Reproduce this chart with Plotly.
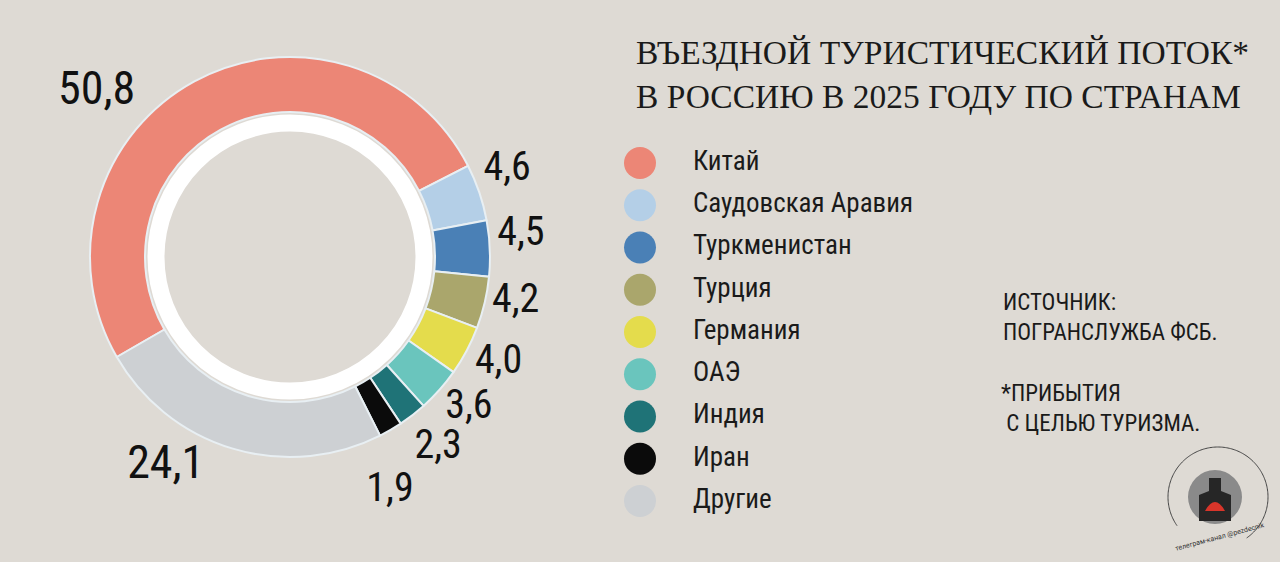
import math
import plotly.graph_objects as go

countries = ["Китай", "Саудовская Аравия", "Туркменистан", "Турция", "Германия",
             "ОАЭ", "Индия", "Иран", "Другие"]
shares = [50.8, 4.6, 4.5, 4.2, 4.0, 3.6, 2.3, 1.9, 24.1]
share_labels = ["50,8", "4,6", "4,5", "4,2", "4,0", "3,6", "2,3", "1,9", "24,1"]
colors = ["#ec8676", "#b4cfe7", "#4a80b6", "#aaa66c", "#e4dc4c",
          "#6ac5bd", "#1f7377", "#0b0b0b", "#cdd0d3"]

title_lines = ["ВЪЕЗДНОЙ ТУРИСТИЧЕСКИЙ ПОТОК*", "В РОССИЮ В 2025 ГОДУ ПО СТРАНАМ"]
source_lines = ["ИСТОЧНИК:", "ПОГРАНСЛУЖБА ФСБ."]
note_lines = ["*ПРИБЫТИЯ", " С ЦЕЛЬЮ ТУРИЗМА."]
logo_caption = "телеграм-канал @pezdecnik"

# ---- styling / layout constants ----
BG = "#dedad4"
W, H = 1280, 562
NARROW = "Roboto Condensed, Roboto, sans-serif"
SERIF = "Liberation Serif, DejaVu Serif, serif"
START_ANGLE = 240          # where the first slice starts (deg, clockwise from 12 o'clock)
label_radius = [1.27, 1.17, 1.16, 1.15, 1.17, 1.17, 1.21, 1.27, 1.22]   # in units of outer radius
label_nudge = [-21, -3, -3, -2, -1, -1.5, 0, 7, 14]                    # deg
label_size = [46, 40, 40, 40, 40, 40, 40, 40, 46]
RMAX = 1.28

cx, cy, R = 290, 257, 200
dom_x = [(cx - R) / W, (cx + R) / W]
dom_y = [(H - cy - R) / H, (H - cy + R) / H]
RP = R * RMAX
pol_x = [(cx - RP) / W, (cx + RP) / W]
pol_y = [max(0, (H - cy - RP) / H), min(1, (H - cy + RP) / H)]

fig = go.Figure()

# donut
fig.add_trace(go.Pie(
    labels=countries, values=shares, textinfo="none",
    marker=dict(colors=colors, line=dict(color="#e8eff3", width=2)),
    hole=0.725, sort=False, direction="clockwise", rotation=START_ANGLE,
    domain=dict(x=dom_x, y=dom_y),
    showlegend=False, hoverinfo="label+value",
))

# value labels around the ring (mid-angle of each slice, via a polar subplot)
total = sum(shares)
mid_angles = []
acc = 0.0
for v in shares:
    mid_angles.append(START_ANGLE + (acc + v / 2) / total * 360)
    acc += v
fig.add_trace(go.Scatterpolar(
    r=label_radius, theta=[a + n for a, n in zip(mid_angles, label_nudge)],
    mode="text", text=share_labels, textposition="middle center", cliponaxis=False,
    textfont=dict(family=NARROW, size=label_size, color="#111111"),
    showlegend=False, hoverinfo="skip", subplot="polar",
))
fig.update_layout(polar=dict(
    domain=dict(x=pol_x, y=pol_y), bgcolor="rgba(0,0,0,0)",
    radialaxis=dict(range=[0, RMAX], visible=False),
    angularaxis=dict(direction="clockwise", rotation=90, visible=False),
))

# white inner ring
fig.add_shape(type="circle", xref="paper", yref="paper",
              x0=(cx - 134) / W, x1=(cx + 134) / W,
              y0=(H - cy - 134) / H, y1=(H - cy + 134) / H,
              line=dict(color="#ffffff", width=17), fillcolor="rgba(0,0,0,0)")

# custom legend (circles + names)
idx = list(range(len(countries)))
fig.add_trace(go.Scatter(
    x=[0] * len(countries), y=idx, mode="markers",
    marker=dict(size=32, color=colors, line=dict(width=0)),
    showlegend=False, hoverinfo="skip"))
fig.add_trace(go.Scatter(
    x=[1.06] * len(countries), y=idx, mode="text", text=countries,
    textposition="middle right",
    textfont=dict(family=NARROW, size=27, color="#1a1a1a"),
    showlegend=False, hoverinfo="skip"))

step = 42.25
y0px = 163
ya = -y0px / step
yb = ya + H / step
fig.update_xaxes(visible=False, domain=[0.47, 1], fixedrange=True,
                 range=[(0.47 * W - 640) / 50, 640 / 50])
fig.update_yaxes(range=[yb, ya], visible=False, domain=[0, 1], fixedrange=True)

# title
fig.add_annotation(xref="paper", yref="paper", x=634 / W, y=1 - 32 / H,
                   xanchor="left", yanchor="top", showarrow=False, align="left",
                   text="<br>".join(title_lines),
                   font=dict(family=SERIF, size=33.5, color="#1a1a1a"))

fig.add_annotation(xref="paper", yref="paper", x=1001 / W, y=1 - 287 / H,
                   xanchor="left", yanchor="top", showarrow=False, align="left",
                   text="<br>".join(source_lines),
                   font=dict(family=NARROW, size=23, color="#1a1a1a"))
fig.add_annotation(xref="paper", yref="paper", x=999 / W, y=1 - 378 / H,
                   xanchor="left", yanchor="top", showarrow=False, align="left",
                   text="<br>".join(note_lines),
                   font=dict(family=NARROW, size=23, color="#1a1a1a"))

# channel logo (decoration)
lx, ly = 1218, 497
arc = []
for k in range(0, 181):
    a = math.radians(235 + k * 1.5)
    px = lx + 50 * math.sin(a)
    py = ly - 50 * math.cos(a)
    arc.append(f"{'M' if k == 0 else 'L'} {px / W} {1 - py / H}")
fig.add_shape(type="path", xref="paper", yref="paper", path=" ".join(arc),
              line=dict(color="#444444", width=1))
fig.add_shape(type="circle", xref="paper", yref="paper",
              x0=(lx - 30) / W, x1=(lx + 24) / W, y0=(H - ly - 27) / H, y1=(H - ly + 27) / H,
              line=dict(width=0), fillcolor="#8a8a8a")
fig.add_shape(type="path", xref="paper", yref="paper",
              path=f"M {(lx-19)/W} {(H-ly-24)/H} L {(lx-19)/W} {(H-ly+2)/H} L {(lx-9)/W} {(H-ly+6)/H} "
                   f"L {(lx-9)/W} {(H-ly+19)/H} L {(lx+3)/W} {(H-ly+19)/H} L {(lx+3)/W} {(H-ly+6)/H} "
                   f"L {(lx+13)/W} {(H-ly+2)/H} L {(lx+13)/W} {(H-ly-24)/H} Z",
              line=dict(width=0), fillcolor="#262626")
fig.add_shape(type="path", xref="paper", yref="paper",
              path=f"M {(lx-13)/W} {(H-ly-14)/H} Q {(lx-3)/W} {(H-ly+4)/H} {(lx+7)/W} {(H-ly-14)/H} Z",
              line=dict(width=0), fillcolor="#d8352a")
fig.add_annotation(xref="paper", yref="paper", x=(lx + 2) / W, y=1 - (ly + 40) / H,
                   xanchor="center", yanchor="middle", showarrow=False, textangle=-15,
                   text=logo_caption, font=dict(family="Roboto", size=7, color="#333333"))

fig.update_layout(width=W, height=H, margin=dict(l=0, r=0, t=0, b=0),
                  paper_bgcolor=BG, plot_bgcolor="rgba(0,0,0,0)")

fig.write_html("out.html", config={"displayModeBar": False},
               post_script="document.body.style.margin='0';")
